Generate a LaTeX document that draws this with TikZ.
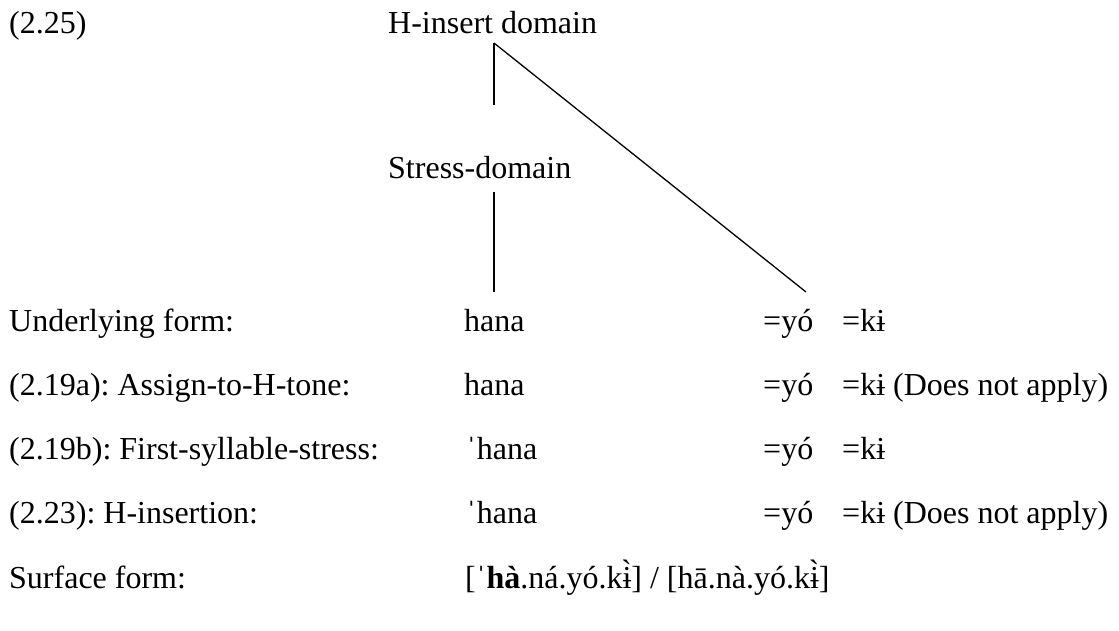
\documentclass[tikz,border=0pt]{standalone}
\usepackage{fontspec}
\setmainfont{Liberation Serif}
\frenchspacing
\begin{document}
\begin{tikzpicture}[x=1pt,y=-1pt,
  txt/.style={anchor=base west,inner sep=0pt,font=\fontsize{32}{38}\selectfont},
  branch/.style={line width=1.3pt}]
\useasboundingbox (0,0) rectangle (1119,630);
% tree
\node[txt] (ex) at (9,33) {(2.25)};
\node[txt] (hid) at (388,33) {H-insert domain};
\node[txt] (sd) at (388,178) {Stress-domain};
\coordinate (apex) at (494,43);
\coordinate (sdtop) at (494,105);
\coordinate (sdbot) at (494,192);
\coordinate (hanatop) at (494,292);
\coordinate (yotop) at (806,292);
\draw[branch] (apex) -- (sdtop);
\draw[branch] (apex) -- (yotop);
\draw[branch] (sdbot) -- (hanatop);
% rows
\node[txt] (l1) at (9,331) {Underlying form:};
\node[txt] (h1) at (464,331) {hana};
\node[txt] (y1) at (763,331) {=yó};
\node[txt] (k1) at (842,331) {=kɨ};

\node[txt] (l2) at (9,395) {(2.19a): Assign-to-H-tone:};
\node[txt] (h2) at (464,395) {hana};
\node[txt] (y2) at (763,395) {=yó};
\node[txt] (k2) at (842,395) {=kɨ (Does not apply)};

\node[txt] (l3) at (9,459) {(2.19b): First-syllable-stress:};
\node[txt] (h3) at (466,459) {ˈhana};
\node[txt] (y3) at (763,459) {=yó};
\node[txt] (k3) at (842,459) {=kɨ};

\node[txt] (l4) at (9,523) {(2.23): H-insertion:};
\node[txt] (h4) at (466,523) {ˈhana};
\node[txt] (y4) at (763,523) {=yó};
\node[txt] (k4) at (842,523) {=kɨ (Does not apply)};

\node[txt] (l5) at (9,588) {Surface form:};
\node[txt] (s5) at (465,588) {[ˈ\textbf{hà}.ná.yó.kɨ̀] / [hā.nà.yó.kɨ̀]};
\end{tikzpicture}
\end{document}
